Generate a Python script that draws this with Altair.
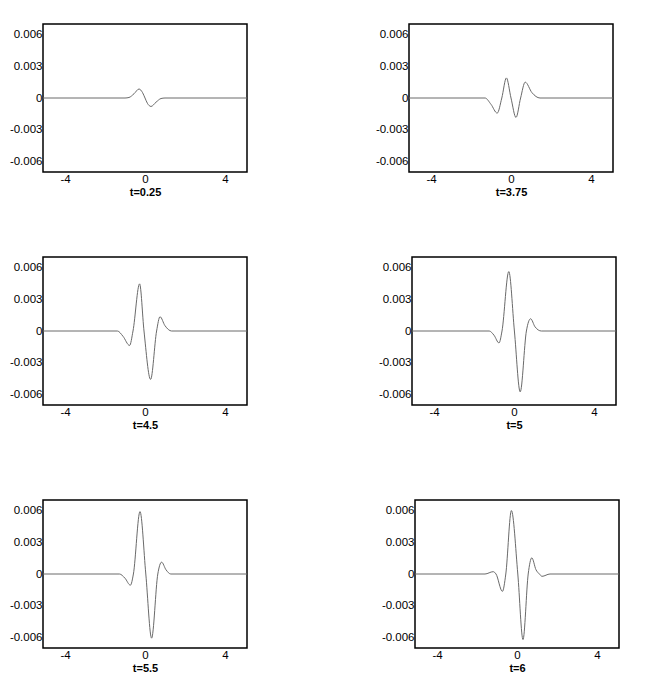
import altair as alt
import pandas as pd

# t = 0.25
x1 = [-5.1, -1.0, -0.8, -0.55, -0.3, -0.12, 0.0, 0.12, 0.3, 0.55, 0.8, 1.0, 5.1]
y1 = [0, 0, 0.00005, 0.0004, 0.00085, 0.0005, 0, -0.0005, -0.0008, -0.0004, -0.00005, 0, 0]
# t = 3.75
x2 = [-5.1, -1.3, -1.0, -0.69, -0.46, -0.23, 0.0, 0.25, 0.48, 0.71, 1.05, 1.45, 5.1]
y2 = [0, 0, -0.0006, -0.00143, 0, 0.0019, 0, -0.00184, 0, 0.0015, 0.0005, 0, 0]
# t = 4.5
x3 = [-5.1, -1.38, -1.1, -0.77, -0.6, -0.27, -0.05, 0.28, 0.58, 0.75, 1.0, 1.33, 5.1]
y3 = [0, 0, -0.0005, -0.00137, 0, 0.00446, 0, -0.00458, 0, 0.00135, 0.0005, 0, 0]
# t = 5
x4 = [-5.1, -1.24, -1.0, -0.75, -0.6, -0.26, 0.02, 0.31, 0.62, 0.83, 1.05, 1.37, 5.1]
y4 = [0, 0, -0.0004, -0.00113, 0, 0.00562, 0, -0.00576, 0, 0.00116, 0.0004, 0, 0]
# t = 5.5
x5 = [-5.1, -1.28, -1.0, -0.73, -0.58, -0.25, 0.04, 0.33, 0.64, 0.83, 1.05, 1.29, 5.1]
y5 = [0, 0, -0.0004, -0.00106, 0, 0.0059, 0, -0.00607, 0, 0.00112, 0.0004, 0, 0]
# t = 6
x6 = [-5.1, -1.6, -1.19, -1.05, -0.73, -0.56, -0.28, 0.04, 0.30, 0.56, 0.74, 0.95, 1.12, 1.25, 1.65, 5.1]
y6 = [0, 0, 0.00022, 0, -0.00165, 0, 0.006, 0, -0.0062, 0, 0.00153, 0.0004, 0, -0.00022, 0, 0]

titles = ["t=0.25", "t=3.75", "t=4.5", "t=5", "t=5.5", "t=6"]
x_ticks = [-4, 0, 4]
y_ticks = [-0.006, -0.003, 0, 0.003, 0.006]

FONT = "Liberation Sans"


def panel(xs, ys, title, ext):
    df = pd.DataFrame({"x": xs, "y": ys})
    return alt.Chart(df).mark_line(
        interpolate="monotone", color="#6a6a6a", strokeWidth=1
    ).encode(
        x=alt.X("x:Q", scale=alt.Scale(domain=[-5.1, 5.1], nice=False, zero=False),
                axis=alt.Axis(values=x_ticks, title=title,
                              labelExpr="(datum.value < 0 ? '-' : '') + format(abs(datum.value), 'd')")),
        y=alt.Y("y:Q", scale=alt.Scale(domain=[-0.007, 0.007], nice=False),
                axis=alt.Axis(values=y_ticks, title=None, minExtent=ext,
                              labelExpr="datum.value == 0 ? '0' : (datum.value < 0 ? '-' : '') + format(abs(datum.value), '.3f')")),
    ).properties(width=204, height=148)


row1 = alt.hconcat(panel(x1, y1, titles[0], 20), panel(x2, y2, titles[1], 20), spacing=124)
row2 = alt.hconcat(panel(x3, y3, titles[2], 20), panel(x4, y4, titles[3], 20), spacing=127)
row3 = alt.hconcat(panel(x5, y5, titles[4], 20), panel(x6, y6, titles[5], 20), spacing=130)

top = alt.vconcat(row1, row2, spacing=57)
chart = alt.vconcat(top, row3, spacing=67).properties(
    padding={"left": 0, "top": 15, "right": 5, "bottom": 5}
).configure_view(
    stroke="black", strokeWidth=1.5
).configure_axis(
    domain=False, ticks=False, grid=False,
    labelFont=FONT, labelFontSize=11.5, labelColor="black", labelPadding=1,
    titleFont=FONT, titleFontSize=11, titleFontWeight="bold", titleColor="black",
    titlePadding=2,
)

chart.save("out.html", embed_options={"renderer": "svg", "actions": False})
